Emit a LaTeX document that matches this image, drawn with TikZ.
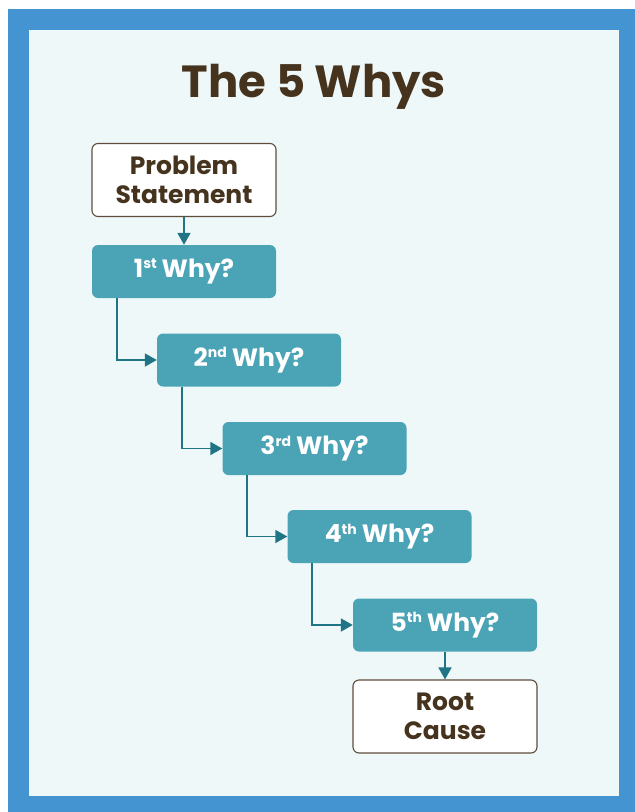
\documentclass[tikz,border=0pt]{standalone}
\usepackage{fontspec}
\setmainfont{Poppins}
\usetikzlibrary{arrows.meta}
\definecolor{frameblue}{HTML}{4394D0}
\definecolor{innerbg}{HTML}{EFF8F8}
\definecolor{tealbox}{HTML}{4BA3B6}
\definecolor{tealline}{HTML}{1F7586}
\definecolor{brownt}{HTML}{45331E}
\definecolor{brownb}{HTML}{5E4D3C}
\newcommand{\sups}[1]{\raisebox{0.62ex}{\fontsize{14}{14}\selectfont #1}\hspace{5pt}}
\tikzset{
  whybox/.style={rectangle, rounded corners=6pt, fill=tealbox, draw=none,
    minimum width=184pt, minimum height=53pt, inner sep=0pt,
    text=white, font=\fontsize{25}{28}\selectfont\bfseries},
  endbox/.style={rectangle, rounded corners=6pt, fill=white, draw=brownb, line width=1.1pt,
    minimum width=184pt, minimum height=73pt, inner sep=0pt, align=center,
    text=brownt, font=\fontsize{25}{29}\selectfont\bfseries},
  conn/.style={draw=tealline, line width=1.8pt, -{Triangle[length=12pt,width=13pt]}},
  titletext/.style={text=brownt, font=\fontsize{45}{50}\selectfont\bfseries, inner sep=0pt}
}
\begin{document}
\begin{tikzpicture}[x=1pt,y=-1pt]
\useasboundingbox (0,0) rectangle (635,812);
\fill[white] (0,0) rectangle (635,812);
\fill[frameblue] (8,9) rectangle (635,812);
\fill[innerbg] (29,30) rectangle (619,796);
\node[titletext, anchor=base] (title) at (314,97) {The 5 Whys};
\node[endbox] (ps) at (184,180) {Problem\\Statement};
\node[whybox] (w1) at (184,271.5) {1\sups{st}Why?};
\node[whybox] (w2) at (249,360) {2\sups{nd}Why?};
\node[whybox] (w3) at (314.5,448.5) {3\sups{rd}Why?};
\node[whybox] (w4) at (379.5,536.5) {4\sups{th}Why?};
\node[whybox] (w5) at (445,625) {5\sups{th}Why?};
\node[endbox] (rc) at (445,716.5) {Root\\Cause};
\draw[conn] (ps) -- (w1);
\draw[conn] ([xshift=25pt]w1.south west) |- (w2.west);
\draw[conn] ([xshift=25pt]w2.south west) |- (w3.west);
\draw[conn] ([xshift=25pt]w3.south west) |- (w4.west);
\draw[conn] ([xshift=25pt]w4.south west) |- (w5.west);
\draw[conn] (w5) -- (rc);
\end{tikzpicture}
\end{document}
